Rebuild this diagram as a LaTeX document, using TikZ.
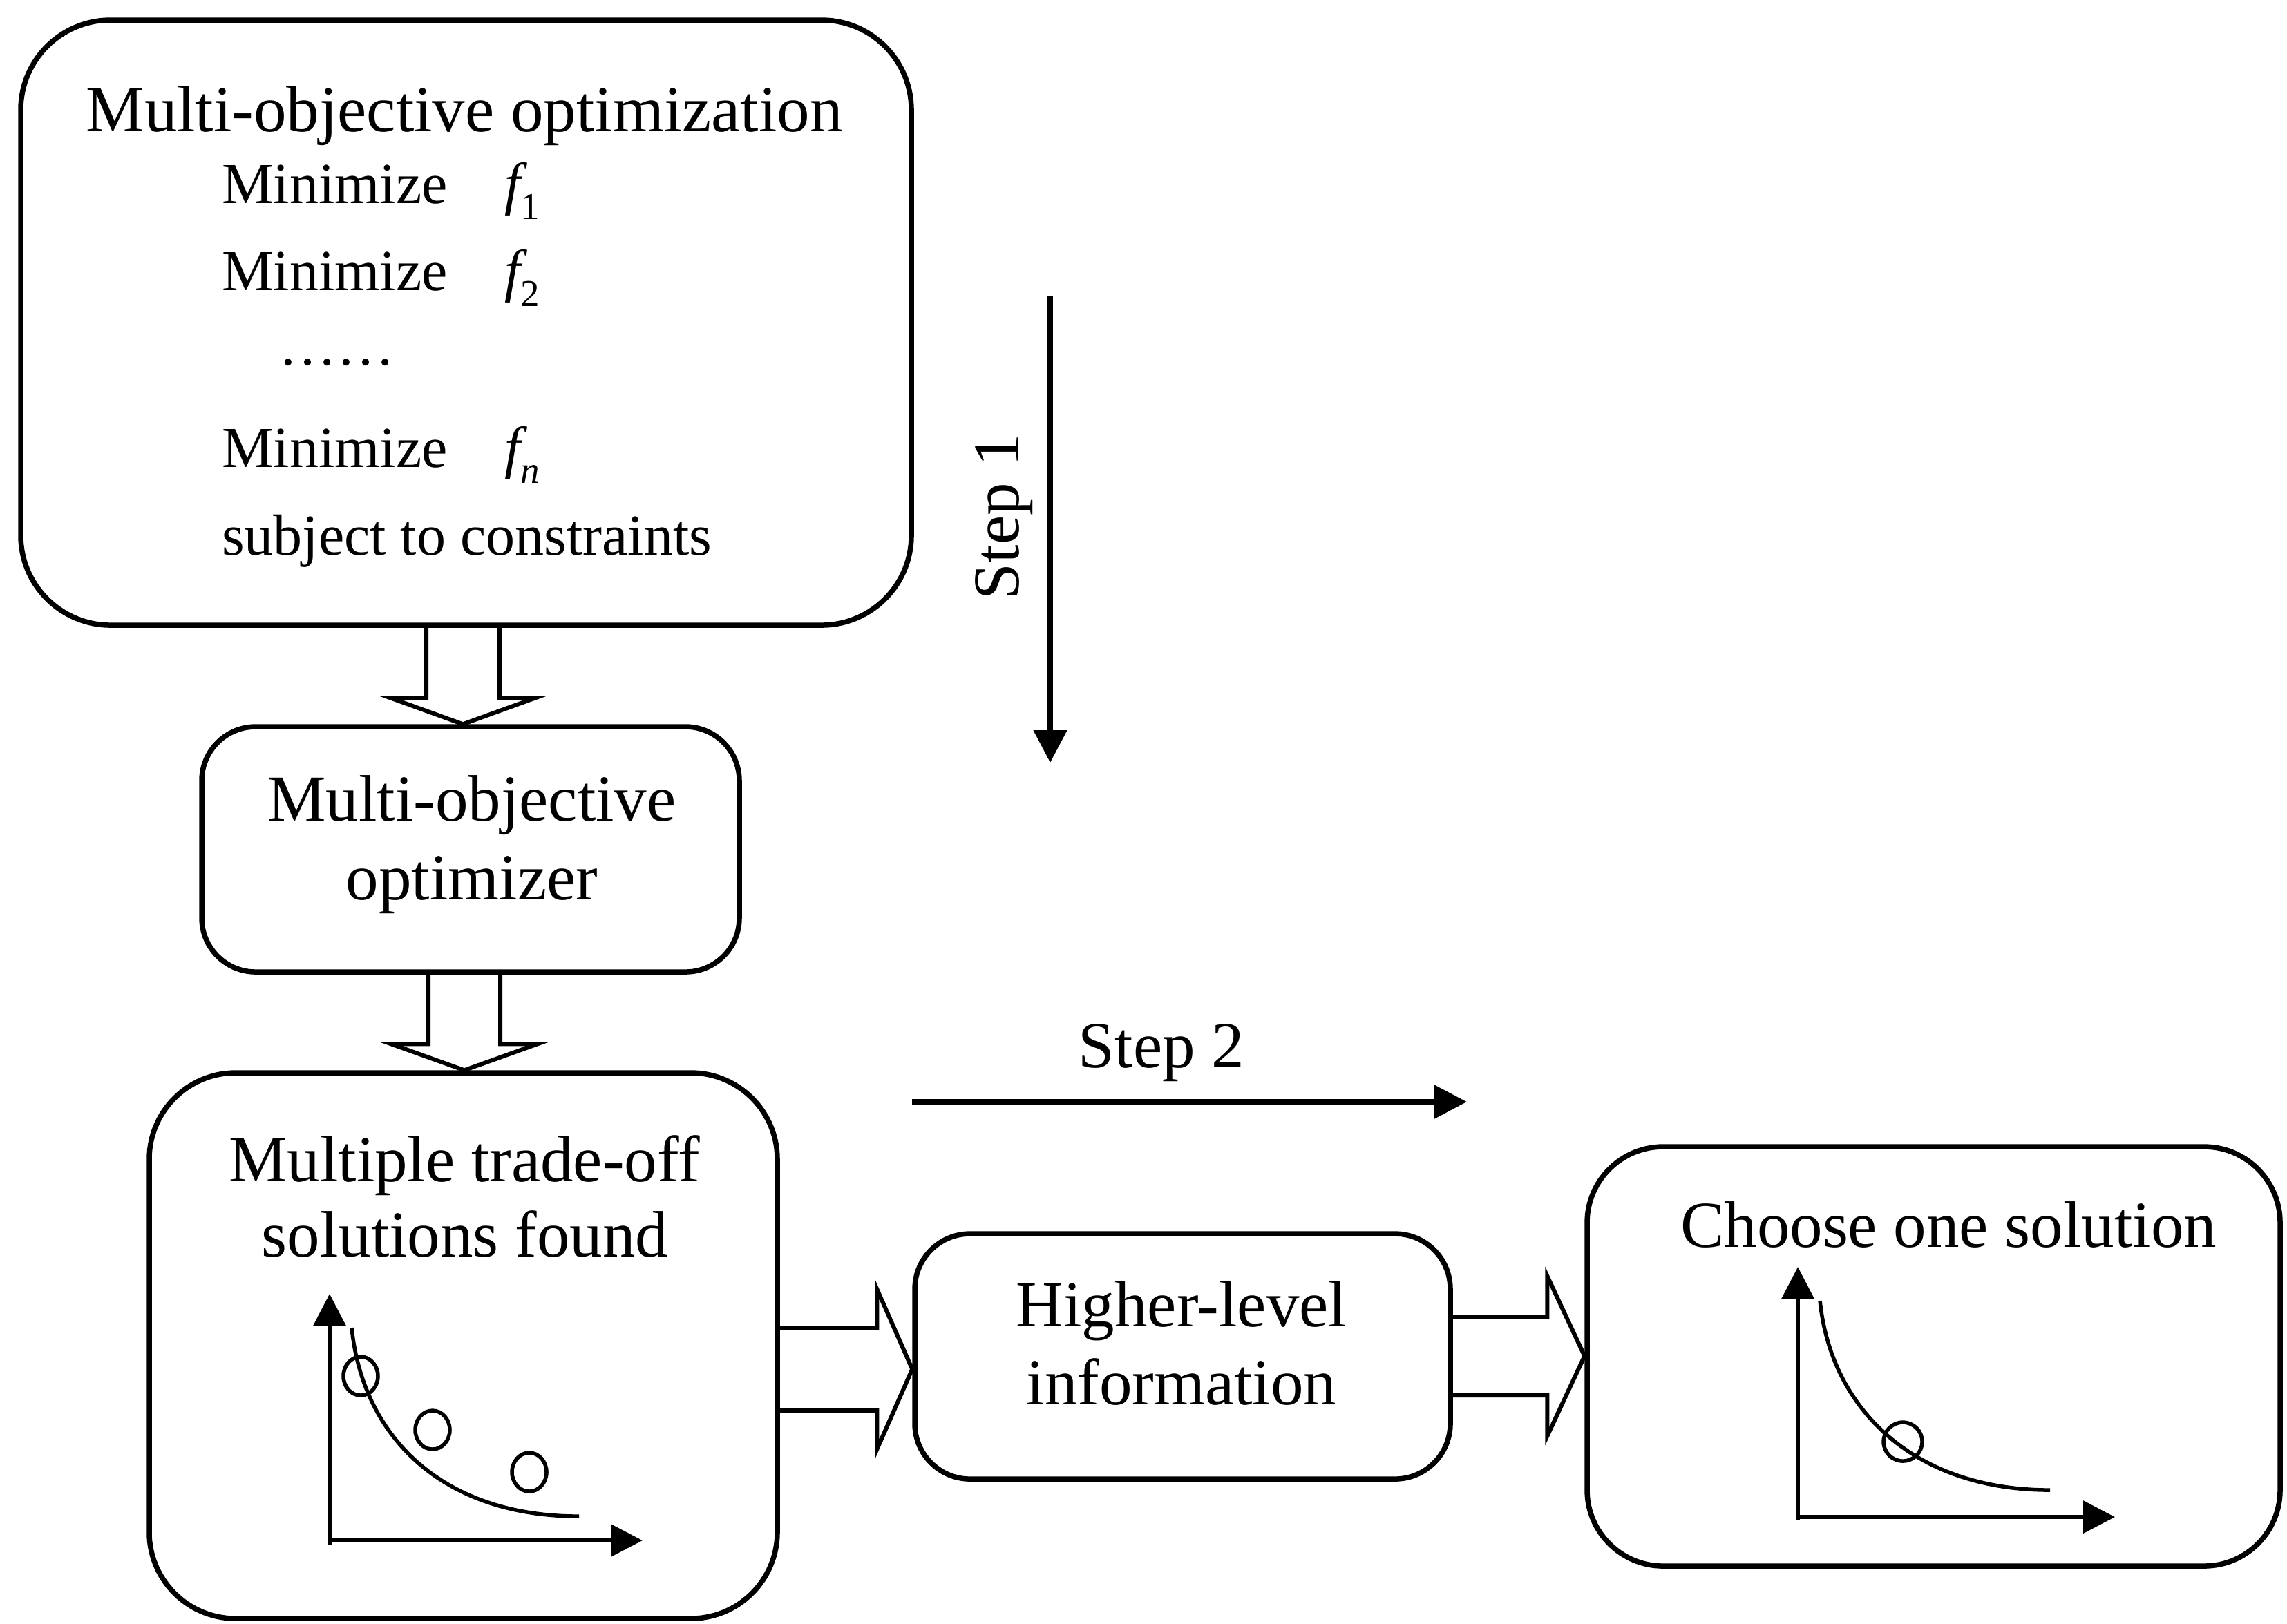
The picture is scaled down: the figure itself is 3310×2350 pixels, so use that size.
\documentclass[tikz,border=0pt]{standalone}
\usepackage{fontspec}
\setmainfont{Liberation Serif}
\usetikzlibrary{arrows.meta,calc,fit}
\newcommand\fsub[1]{{\itshape f}\raisebox{-2.3pt}{\fontsize{5.5pt}{6pt}\selectfont #1}}
\begin{document}
\begin{tikzpicture}[x=0.1pt,y=-0.1pt,
  box/.style={draw, line width=0.75pt, inner sep=0pt},
  lbl/.style={font=\fontsize{9.5pt}{11pt}\selectfont, inner sep=0pt, anchor=base},
  mini/.style={font=\fontsize{8.4pt}{10pt}\selectfont, inner sep=0pt, anchor=base west},
  hollow/.style={draw, line width=0.6pt, line join=miter},
  steparrow/.style={line width=0.8pt, -{Triangle[length=4.7pt,width=4.7pt]}},
  axis/.style={line width=0.65pt, -{Triangle[length=4.6pt,width=4.6pt]}},
  curve/.style={line width=0.55pt},
  sol/.style={line width=0.55pt}]
\useasboundingbox (0,0) rectangle (3310,2350);

% boxes
\node[box, rounded corners=13pt, fit={(30,29) (1319,905)}] (b1) {};
\node[box, rounded corners=7.8pt, fit={(292,1052) (1070,1407)}] (b2) {};
\node[box, rounded corners=12.5pt, fit={(216,1553) (1125,2343)}] (b3) {};
\node[box, rounded corners=8pt, fit={(1324,1786) (2099,2141)}] (b4) {};
\node[box, rounded corners=11pt, fit={(2297,1660) (3300,2267)}] (b5) {};

% box 1 texts
\node[lbl] (t1) at (672,190) {Multi-objective optimization};
\node[mini] (m1) at (319,294) {Minimize};
\node[mini] (f1) at (728,294) {\fsub{1}};
\node[mini] (m2) at (319,420) {Minimize};
\node[mini] (f2) at (728,420) {\fsub{2}};
\node[mini] (dots) at (401,528) {……};
\node[mini] (m3) at (319,676) {Minimize};
\node[mini] (f3) at (728,676) {\fsub{\itshape n}};
\node[mini] (st) at (319,803) {subject to constraints};

% box 2 texts
\node[lbl] (t2a) at (683,1188) {Multi-objective};
\node[lbl] (t2b) at (683,1302) {optimizer};

% box 3 texts
\node[lbl] (t3a) at (672,1710) {Multiple trade-off};
\node[lbl] (t3b) at (673,1819) {solutions found};

% box 4 texts
\node[lbl] (t4a) at (1710,1920) {Higher-level};
\node[lbl] (t4b) at (1710,2033) {information};

% box 5 text
\node[lbl] (t5) at (2820,1805) {Choose one solution};

% hollow arrows
\coordinate (c1) at (670,0);
\draw[hollow] ($(b1.south -| c1)+(-53,0)$) -- ($(b2.north -| c1)+(-53,-38)$)
  -- ($(b2.north -| c1)+(-105,-38)$) -- (b2.north -| c1)
  -- ($(b2.north -| c1)+(105,-38)$) -- ($(b2.north -| c1)+(53,-38)$)
  -- ($(b1.south -| c1)+(53,0)$);
\coordinate (c2) at (672,0);
\draw[hollow] ($(b2.south -| c2)+(-52,0)$) -- ($(b3.north -| c2)+(-52,-38)$)
  -- ($(b3.north -| c2)+(-106,-38)$) -- (b3.north -| c2)
  -- ($(b3.north -| c2)+(106,-38)$) -- ($(b3.north -| c2)+(52,-38)$)
  -- ($(b2.south -| c2)+(52,0)$);
\coordinate (c3) at (0,1982);
\draw[hollow] ($(b3.east |- c3)+(0,-60)$) -- ($(b4.west |- c3)+(-51,-60)$)
  -- ($(b4.west |- c3)+(-51,-116)$) -- (b4.west |- c3)
  -- ($(b4.west |- c3)+(-51,116)$) -- ($(b4.west |- c3)+(-51,60)$)
  -- ($(b3.east |- c3)+(0,60)$);
\coordinate (c4) at (0,1963);
\draw[hollow] ($(b4.east |- c4)+(0,-57)$) -- ($(b5.west |- c4)+(-54,-57)$)
  -- ($(b5.west |- c4)+(-54,-116)$) -- (b5.west |- c4)
  -- ($(b5.west |- c4)+(-54,116)$) -- ($(b5.west |- c4)+(-54,57)$)
  -- ($(b4.east |- c4)+(0,57)$);

% step arrows
\coordinate (s1a) at (1520,429);
\coordinate (s1b) at (1520,1104);
\draw[steparrow] (s1a) -- (s1b);
\node[lbl, anchor=center, rotate=90] (s1) at (1453,748) {Step 1};
\coordinate (s2a) at (1320,1595);
\coordinate (s2b) at (2123,1595);
\draw[steparrow] (s2a) -- (s2b);
\node[lbl] (s2) at (1681,1545) {Step 2};

% mini chart in box 3
\draw[axis] (477,2237) -- (477,1873);
\draw[axis] (474,2230) -- (930,2230);
\draw[curve] (509,1922) .. controls (525,2080) and (640,2195) .. (838,2195);
\draw[sol] (522,1992) ellipse [x radius=2.5pt, y radius=2.8pt];
\draw[sol] (626,2070) ellipse [x radius=2.5pt, y radius=2.8pt];
\draw[sol] (766,2131) ellipse [x radius=2.5pt, y radius=2.8pt];

% mini chart in box 5
\draw[axis] (2602,2200) -- (2602,1834);
\draw[axis] (2599,2196) -- (3061,2196);
\draw[curve] (2634,1883) .. controls (2650,2040) and (2770,2157) .. (2967,2157);
\draw[sol] (2754,2087) ellipse [x radius=2.8pt, y radius=2.8pt];
\end{tikzpicture}
\end{document}
